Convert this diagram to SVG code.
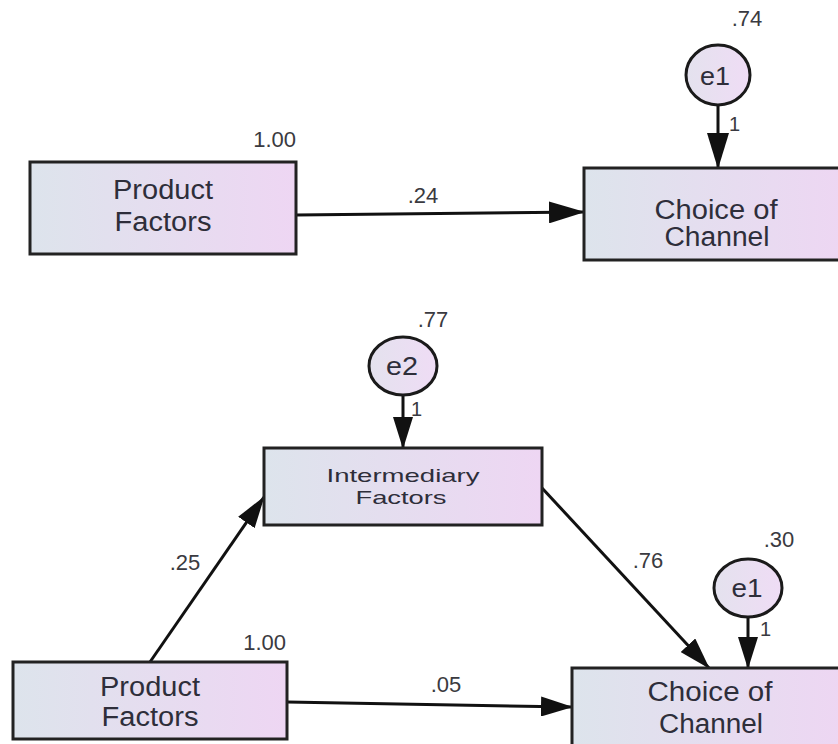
<svg xmlns="http://www.w3.org/2000/svg" width="838" height="744" viewBox="0 0 838 744">
  <defs>
    <linearGradient id="boxFill" x1="0" y1="0" x2="1" y2="0">
      <stop offset="0" stop-color="#dde4ec"/>
      <stop offset="1" stop-color="#eed6f3"/>
    </linearGradient>
    <linearGradient id="errFill" x1="0" y1="0" x2="1" y2="0">
      <stop offset="0" stop-color="#e4e2ee"/>
      <stop offset="1" stop-color="#efdcf5"/>
    </linearGradient>
    <marker id="arrow" markerUnits="userSpaceOnUse" markerWidth="36" markerHeight="22" refX="35" refY="11" orient="auto">
      <path d="M0,0 L36,11 L0,22 z" fill="#111"/>
    </marker>
    <marker id="arrowSm" markerUnits="userSpaceOnUse" markerWidth="32" markerHeight="20" refX="31" refY="10" orient="auto">
      <path d="M0,0 L32,10 L0,20 z" fill="#111"/>
    </marker>
  </defs>
  <style>
    .box { fill: url(#boxFill); stroke: #222; stroke-width: 3; }
    .err { fill: url(#errFill); stroke: #1a1a1a; stroke-width: 3; }
    .lbl { font-family: "Liberation Sans", Arial, sans-serif; fill: #2e2e3a; text-anchor: middle; }
    .big { font-size: 27px; }
    .mid { font-size: 19px; }
    .err-t { font-size: 26px; }
    .num { font-family: "Liberation Sans", Arial, sans-serif; fill: #3a3a40; font-size: 22px; }
    .one { font-family: "Liberation Sans", Arial, sans-serif; fill: #3a3a40; font-size: 20px; }
    .edge { stroke: #111; stroke-width: 3; fill: none; }
  </style>

  <rect width="838" height="744" fill="#ffffff"/>

  <!-- connectors -->
  <g id="connectors">
    <line class="edge" x1="296" y1="215" x2="584" y2="212" marker-end="url(#arrow)"/>
    <line class="edge" x1="718" y1="105" x2="718" y2="168" marker-end="url(#arrow)"/>
    <line class="edge" x1="403" y1="396" x2="403" y2="448" marker-end="url(#arrowSm)"/>
    <line class="edge" x1="150" y1="662" x2="264" y2="497" marker-end="url(#arrowSm)"/>
    <line class="edge" x1="542" y1="488" x2="709" y2="668" marker-end="url(#arrowSm)"/>
    <line class="edge" x1="748" y1="617" x2="748" y2="668" marker-end="url(#arrowSm)"/>
    <line class="edge" x1="287" y1="702" x2="572" y2="707" marker-end="url(#arrowSm)"/>
    <text class="num" x="423" y="203" text-anchor="middle">.24</text>
    <text class="one" x="729" y="131">1</text>
    <text class="one" x="411" y="416">1</text>
    <text class="one" x="760" y="636">1</text>
    <text class="num" x="185" y="570" text-anchor="middle">.25</text>
    <text class="num" x="648" y="568" text-anchor="middle">.76</text>
    <text class="num" x="446" y="692" text-anchor="middle">.05</text>
  </g>

  <!-- upper model -->
  <g id="product-top">
    <rect class="box" x="30" y="162" width="266" height="92"/>
    <text class="lbl big" x="163" y="199" textLength="100" lengthAdjust="spacingAndGlyphs">Product</text>
    <text class="lbl big" x="163" y="231" textLength="97" lengthAdjust="spacingAndGlyphs">Factors</text>
    <text class="num" x="296" y="147" text-anchor="end">1.00</text>
  </g>
  <g id="choice-top">
    <rect class="box" x="584" y="168" width="266" height="92"/>
    <text class="lbl big" x="716" y="219" textLength="123" lengthAdjust="spacingAndGlyphs">Choice of</text>
    <text class="lbl big" x="717" y="246" textLength="105" lengthAdjust="spacingAndGlyphs">Channel</text>
  </g>
  <g id="e1-top">
    <ellipse class="err" cx="718" cy="75" rx="32" ry="30"/>
    <text class="lbl err-t" x="715" y="85" textLength="30" lengthAdjust="spacingAndGlyphs">e1</text>
    <text class="num" x="747" y="26" text-anchor="middle">.74</text>
  </g>

  <!-- lower model -->
  <g id="e2">
    <ellipse class="err" cx="403" cy="366" rx="34" ry="29"/>
    <text class="lbl err-t" x="402" y="375" textLength="32" lengthAdjust="spacingAndGlyphs">e2</text>
    <text class="num" x="433" y="327" text-anchor="middle">.77</text>
  </g>
  <g id="intermediary">
    <rect class="box" x="264" y="448" width="278" height="77"/>
    <text class="lbl mid" x="403" y="482" textLength="153" lengthAdjust="spacingAndGlyphs">Intermediary</text>
    <text class="lbl mid" x="401" y="504" textLength="91" lengthAdjust="spacingAndGlyphs">Factors</text>
  </g>
  <g id="product-bottom">
    <rect class="box" x="13" y="662" width="274" height="77"/>
    <text class="lbl big" x="150" y="696" textLength="100" lengthAdjust="spacingAndGlyphs">Product</text>
    <text class="lbl big" x="150" y="726" textLength="97" lengthAdjust="spacingAndGlyphs">Factors</text>
    <text class="num" x="286" y="650" text-anchor="end">1.00</text>
  </g>
  <g id="choice-bottom">
    <rect class="box" x="572" y="668" width="278" height="90"/>
    <text class="lbl big" x="710" y="701" textLength="125" lengthAdjust="spacingAndGlyphs">Choice of</text>
    <text class="lbl big" x="711" y="733" textLength="104" lengthAdjust="spacingAndGlyphs">Channel</text>
  </g>
  <g id="e1-bottom">
    <ellipse class="err" cx="748" cy="588" rx="34" ry="29"/>
    <text class="lbl err-t" x="747" y="597" textLength="31" lengthAdjust="spacingAndGlyphs">e1</text>
    <text class="num" x="779" y="547" text-anchor="middle">.30</text>
  </g>
</svg>
